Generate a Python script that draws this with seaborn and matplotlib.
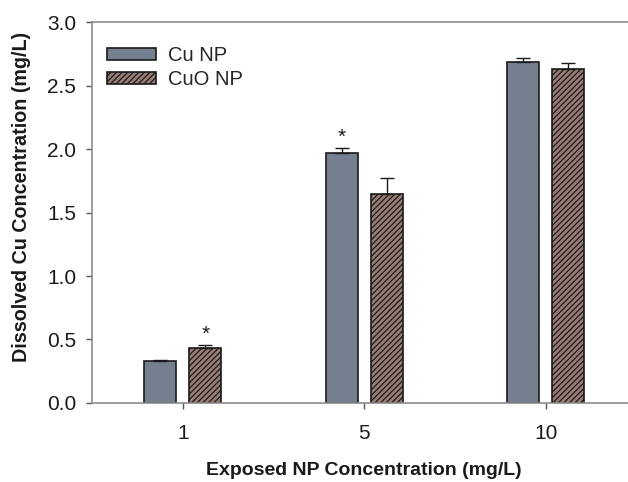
"""Dissolved Cu concentration bar chart for Cu and CuO nanoparticles."""
import matplotlib
matplotlib.use("Agg")
import matplotlib.pyplot as plt
import seaborn as sns
import pandas as pd

sns.set_style("white")
plt.rcParams['font.family'] = ['Liberation Sans', 'DejaVu Sans']
plt.rcParams['hatch.linewidth'] = 0.9

# Data
concentrations = ["1", "5", "10"]
cu_np_mean = [0.33, 1.97, 2.685]
cu_np_err = [0.01, 0.04, 0.03]
cuo_np_mean = [0.435, 1.65, 2.63]
cuo_np_err = [0.02, 0.12, 0.05]
significant_cu = [False, True, False]
significant_cuo = [True, False, False]

df = pd.DataFrame({
    "conc": concentrations * 2,
    "value": cu_np_mean + cuo_np_mean,
    "type": ["Cu NP"] * 3 + ["CuO NP"] * 3,
})

fig = plt.figure(figsize=(6.28, 4.82), dpi=100)
ax = fig.add_axes([0.1465, 0.164, 0.867, 0.79])

sns.barplot(data=df, x="conc", y="value", hue="type", order=concentrations,
            palette=["#6f7f94", "#a07a6e"], errorbar=None, width=0.496,
            gap=0.29, edgecolor="#1a1a1a", linewidth=1.2, ax=ax)

bar_groups = list(ax.containers)  # grab before errorbars add their own containers
errs = [cu_np_err, cuo_np_err]
stars = [significant_cu, significant_cuo]
for i, cont in enumerate(bar_groups):
    for j, bar in enumerate(cont.patches):
        if i == 1:
            bar.set_hatch("//////")
        xc = bar.get_x() + bar.get_width() / 2
        top = bar.get_height()
        ax.errorbar(xc, top, yerr=[[0], [errs[i][j]]], fmt="none",
                    ecolor="#1a1a1a", elinewidth=1.0, capsize=5, capthick=1.0)
        if stars[i][j]:
            ax.text(xc, top + errs[i][j] + 0.01, "*", ha="center", va="bottom",
                    fontsize=15, color="#1a1a1a")

ax.set_xlim(-0.5, 2.5)
ax.set_ylim(0, 3.0)
ax.set_yticks([0.0, 0.5, 1.0, 1.5, 2.0, 2.5, 3.0])
ax.set_yticklabels(["0.0", "0.5", "1.0", "1.5", "2.0", "2.5", "3.0"])

for s in ax.spines.values():
    s.set_color("#8c8c8c")
    s.set_linewidth(1.2)
ax.tick_params(axis="both", direction="out", length=4.5, width=1, color="#555555",
               labelsize=15, labelcolor="#1a1a1a", bottom=True, left=True)
ax.tick_params(axis="x", pad=11)
ax.tick_params(axis="y", pad=7)

ax.set_xlabel("Exposed NP Concentration (mg/L)", fontsize=14, fontweight="bold",
              labelpad=13, color="#1a1a1a")
ax.set_ylabel("Dissolved Cu Concentration (mg/L)", fontsize=14.2, fontweight="bold",
              color="#1a1a1a")
ax.yaxis.set_label_coords(-0.112, 0.54)

leg = ax.legend(loc="upper left", frameon=False, fontsize=14.5, handlelength=2.4,
                handleheight=0.6, handletextpad=0.6, labelspacing=0.25,
                bbox_to_anchor=(-0.005, 0.985))
for h in leg.legend_handles:
    h.set_edgecolor("#1a1a1a")
leg.legend_handles[1].set_hatch("//////")

fig.savefig("out.png", dpi=100)
